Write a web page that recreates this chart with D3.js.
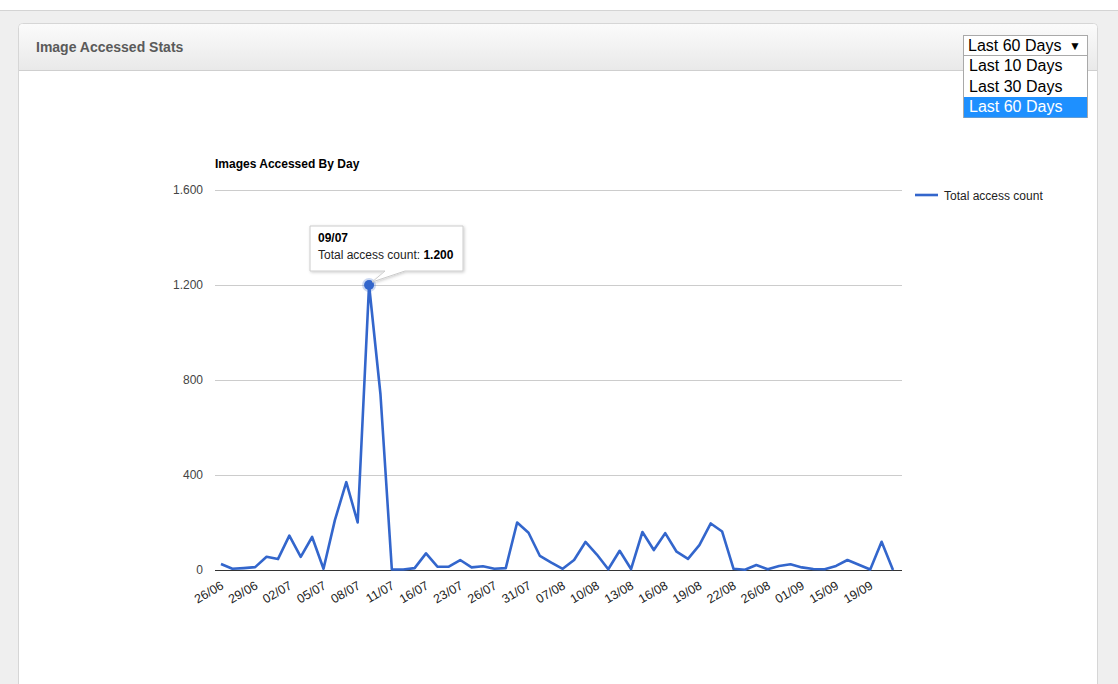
<!DOCTYPE html>
<html>
<head>
<meta charset="utf-8">
<script src="https://cdn.jsdelivr.net/npm/d3@7"></script>
<style>
  body { margin: 0; background: #fff; font-family: Arial, "Liberation Sans", sans-serif; }
  svg { display: block; }
</style>
</head>
<body>
<div id="chart"></div>
<script>
// days shown on the chart (only days with data)
const days = ["26/06","27/06","28/06","29/06","30/06","01/07","02/07","03/07","04/07","05/07",
  "06/07","07/07","08/07","09/07","10/07","11/07","13/07","14/07","16/07","18/07",
  "20/07","23/07","24/07","25/07","26/07","27/07","30/07","31/07","02/08","05/08",
  "07/08","08/08","09/08","10/08","11/08","12/08","13/08","14/08","15/08","16/08",
  "17/08","18/08","19/08","20/08","21/08","22/08","23/08","25/08","26/08","28/08",
  "30/08","01/09","05/09","10/09","15/09","16/09","18/09","19/09","20/09","21/09"];

const accessCount = [25,5,8,12,56,46,145,55,139,5,
  210,370,200,1200,740,2,2,8,70,14,
  14,42,11,16,5,8,200,157,59,31,
  5,42,118,65,3,81,4,160,84,155,
  77,47,105,196,162,5,1,21,3,17,
  24,11,4,3,17,42,22,2,119,0];

const yTicks = [0, 400, 800, 1200, 1600];
const rangeOptions = ["Last 10 Days", "Last 30 Days", "Last 60 Days"];
const selectedRange = "Last 60 Days";
const seriesName = "Total access count";
const highlightDay = "09/07";

const W = 1118, H = 684;
const locale = d3.formatLocale({decimal: ",", thousands: ".", grouping: [3], currency: ["", ""]});
const fmt = locale.format(",d");

const svg = d3.select("#chart").append("svg")
  .attr("width", W).attr("height", H)
  .style("font-family", "Arial, 'Liberation Sans', sans-serif");

const defs = svg.append("defs");
const hdr = defs.append("linearGradient").attr("id", "hdr")
  .attr("x1", "0%").attr("y1", "0%").attr("x2", "0%").attr("y2", "100%");
hdr.append("stop").attr("offset", "0%").attr("stop-color", "#fbfbfb");
hdr.append("stop").attr("offset", "100%").attr("stop-color", "#e9e9e9");
const shadow = defs.append("filter").attr("id", "shadow")
  .attr("x", "-10%").attr("y", "-10%").attr("width", "130%").attr("height", "140%");
shadow.append("feDropShadow").attr("dx", 1).attr("dy", 1).attr("stdDeviation", 1.5)
  .attr("flood-color", "#000").attr("flood-opacity", 0.2);

// page background
svg.append("rect").attr("x", 0).attr("y", 10).attr("width", W).attr("height", H - 10)
  .attr("fill", "#efefef");
svg.append("line").attr("x1", 0).attr("x2", W).attr("y1", 10.5).attr("y2", 10.5)
  .attr("stroke", "#d4d4d4");

// panel
svg.append("rect").attr("x", 18.5).attr("y", 23.5).attr("width", 1079).attr("height", 700)
  .attr("rx", 4).attr("fill", "#fff").attr("stroke", "#d6d6d6");
svg.append("path")
  .attr("d", "M19,70 L19,28 Q19,24 23,24 L1093,24 Q1097,24 1097,28 L1097,70 Z")
  .attr("fill", "url(#hdr)");
svg.append("line").attr("x1", 19).attr("x2", 1097).attr("y1", 70.5).attr("y2", 70.5)
  .attr("stroke", "#cfcfcf");
svg.append("text").attr("x", 36).attr("y", 52)
  .attr("font-size", 14).attr("font-weight", "bold").attr("fill", "#5a5a5a")
  .text("Image Accessed Stats");

// chart
const x = d3.scalePoint().domain(days).range([221, 893]);
const y = d3.scaleLinear().domain([0, 1600]).range([570, 190]);
const plotL = 215, plotR = 902;

svg.append("text").attr("x", 215).attr("y", 168)
  .attr("font-size", 12).attr("font-weight", "bold").attr("fill", "#000")
  .text("Images Accessed By Day");

const yAxis = svg.append("g")
  .attr("transform", `translate(${plotL},0)`)
  .call(d3.axisLeft(y).tickValues(yTicks).tickSize(-(plotR - plotL)).tickFormat(fmt));
yAxis.select(".domain").remove();
yAxis.selectAll(".tick line").attr("stroke", "#cccccc");
yAxis.selectAll(".tick text").attr("x", -12).attr("font-size", 12).attr("fill", "#444")
  .attr("font-family", "Arial, 'Liberation Sans', sans-serif");

// baseline
svg.append("line").attr("x1", plotL).attr("x2", plotR)
  .attr("y1", y(0) + 0.5).attr("y2", y(0) + 0.5).attr("stroke", "#333");

const xAxis = svg.append("g")
  .attr("transform", `translate(0,${y(0)})`)
  .call(d3.axisBottom(x).tickValues(days.filter((d, i) => i % 3 === 0)).tickSize(0));
xAxis.select(".domain").remove();
xAxis.selectAll(".tick text")
  .attr("font-size", 12.5).attr("fill", "#222")
  .attr("font-family", "Arial, 'Liberation Sans', sans-serif")
  .attr("text-anchor", "end")
  .attr("dy", null).attr("y", 0)
  .attr("transform", "translate(3,18) rotate(-30)");

// line
const line = d3.line().x((d, i) => x(days[i])).y(d => y(d));
svg.append("path").datum(accessCount)
  .attr("d", line).attr("fill", "none")
  .attr("stroke", "#3366cc").attr("stroke-width", 2.6).attr("stroke-linejoin", "round");

// legend
svg.append("line").attr("x1", 915).attr("x2", 938).attr("y1", 195).attr("y2", 195)
  .attr("stroke", "#3366cc").attr("stroke-width", 2.6);
svg.append("text").attr("x", 944).attr("y", 199.5)
  .attr("font-size", 12).attr("fill", "#222").text(seriesName);

// highlighted point + tooltip
const hi = days.indexOf(highlightDay);
const px = x(highlightDay), py = y(accessCount[hi]);
svg.append("circle").attr("cx", px).attr("cy", py).attr("r", 7)
  .attr("fill", "#3366cc").attr("opacity", 0.25);
svg.append("circle").attr("cx", px).attr("cy", py).attr("r", 5)
  .attr("fill", "#3366cc");

const tip = svg.append("g").attr("filter", "url(#shadow)");
const bx = 310, by = 226, bw = 153, bh = 45;
tip.append("path")
  .attr("d", `M${bx},${by} H${bx + bw} V${by + bh} H${bx + 95} L${px + 3},${py - 3} L${bx + 75},${by + bh} H${bx} Z`)
  .attr("fill", "#fff").attr("stroke", "#cccccc");
svg.append("text").attr("x", bx + 8).attr("y", by + 16)
  .attr("font-size", 12).attr("font-weight", "bold").attr("fill", "#000").text(highlightDay);
const t2 = svg.append("text").attr("x", bx + 8).attr("y", by + 33)
  .attr("font-size", 12).attr("fill", "#222");
t2.append("tspan").text(seriesName + ": ");
t2.append("tspan").attr("font-weight", "bold").attr("fill", "#000").text(fmt(accessCount[hi]));

// range select (open)
const sel = svg.append("g");
sel.append("rect").attr("x", 963.5).attr("y", 35.5).attr("width", 124).attr("height", 20)
  .attr("fill", "#fff").attr("stroke", "#a9a9a9");
sel.append("text").attr("x", 968).attr("y", 51).attr("font-size", 16).attr("fill", "#000")
  .text(selectedRange);
sel.append("text").attr("x", 1069).attr("y", 50).attr("font-size", 12).attr("fill", "#000")
  .text("▼");
sel.append("rect").attr("x", 963.5).attr("y", 55.5).attr("width", 124).attr("height", 62)
  .attr("fill", "#fff").attr("stroke", "#a9a9a9");
const opt = sel.selectAll("g.opt").data(rangeOptions).join("g").attr("class", "opt")
  .attr("transform", (d, i) => `translate(0,${56 + i * 20.5})`);
opt.append("rect").attr("x", 964).attr("y", 0).attr("width", 123).attr("height", 20.5)
  .attr("fill", d => d === selectedRange ? "#1e90ff" : "none");
opt.append("text").attr("x", 969).attr("y", 15).attr("font-size", 16)
  .attr("fill", d => d === selectedRange ? "#fff" : "#000").text(d => d);
</script>
</body>
</html>
